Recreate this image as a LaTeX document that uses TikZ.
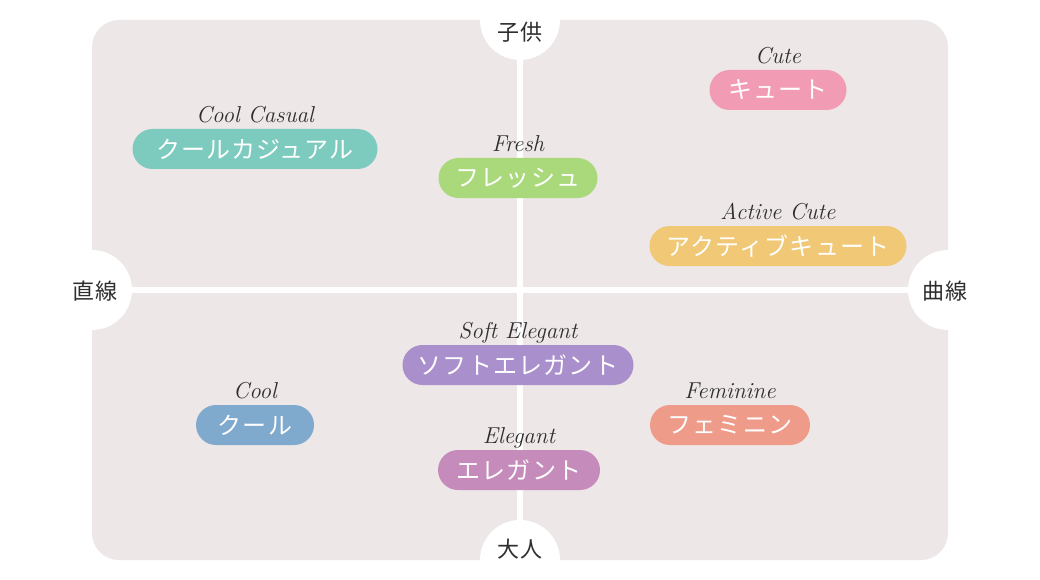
\documentclass[tikz,border=0pt]{standalone}
\usepackage{fontspec}
\newfontfamily\jpfont[LetterSpace=5]{Noto Sans CJK JP}
\usetikzlibrary{positioning}
\definecolor{panel}{HTML}{EDE7E7}
\definecolor{cute}{HTML}{F29BB5}
\definecolor{coolcas}{HTML}{7DCBBF}
\definecolor{fresh}{HTML}{A9D97A}
\definecolor{actcute}{HTML}{F0C876}
\definecolor{softel}{HTML}{A98FCB}
\definecolor{cool}{HTML}{7FA9CD}
\definecolor{femin}{HTML}{EE9C89}
\definecolor{elegant}{HTML}{C58BBA}
\definecolor{ink}{HTML}{2E2E2E}

\begin{document}
\begin{tikzpicture}[x=1pt, y=-1pt,
  pill/.style={rounded corners=20pt, minimum height=40pt, inner sep=0pt, text=white,
    font=\jpfont\fontsize{24}{24}\selectfont},
  tag/.style={inner sep=0pt, text depth=0pt, text=ink, font=\itshape\fontsize{23}{23}\selectfont},
  axis/.style={text=ink, font=\jpfont\fontsize{22}{22}\selectfont}]
\useasboundingbox (0,0) rectangle (1040,580);
% panel and the two axes
\fill[panel, rounded corners=27pt] (92,20) rectangle (948,560);
\draw[white, line width=6pt] (92,290) -- (948,290);
\draw[white, line width=6pt] (520,20) -- (520,560);
\foreach \x/\y in {520/20, 520/560, 92/290, 948/290}
  \fill[white] (\x,\y) circle (40pt);
\node[axis] (kids)   at (520,32)  {子供};
\node[axis] (adults) at (520,549) {大人};
\node[axis] (straight) at (95,291)  {直線};
\node[axis] (curve)    at (945,291) {曲線};
% the styles
\foreach \n/\x/\y/\w/\c/\jp/\en in {
  cute/778/90/137/cute/キュート/Cute,
  coolcas/255/149/245/coolcas/クールカジュアル/Cool Casual,
  fresh/518/178/159/fresh/フレッシュ/Fresh,
  actcute/778/246/257/actcute/アクティブキュート/Active Cute,
  softel/518/365/231/softel/ソフトエレガント/Soft Elegant,
  cool/255/425/118/cool/クール/Cool,
  femin/730/425/160/femin/フェミニン/Feminine,
  elegant/519/470/162/elegant/エレガント/Elegant} {
  \node[pill, fill=\c, minimum width=\w pt] (\n) at (\x,\y) {\jp};
  \node[tag, above=6pt of \n] (\n-en) {\en};
}
\end{tikzpicture}
\end{document}
